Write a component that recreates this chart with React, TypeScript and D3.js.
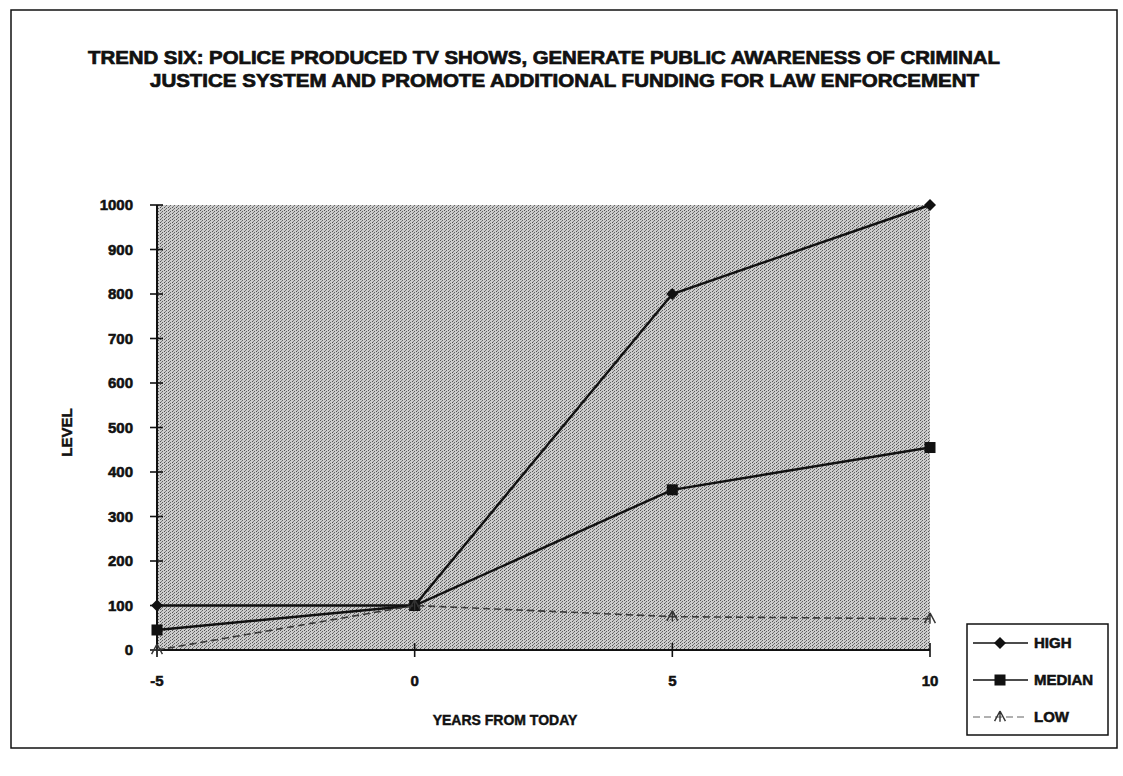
import React from "react";
import * as d3 from "d3";

// Years relative to today and the three forecast series
const years: number[] = [-5, 0, 5, 10];
const highValues: number[] = [100, 100, 800, 1000];
const medianValues: number[] = [45, 100, 360, 455];
const lowValues: number[] = [0, 100, 75, 70];

const xTicks: number[] = [-5, 0, 5, 10];
const yTicks: number[] = [0, 100, 200, 300, 400, 500, 600, 700, 800, 900, 1000];

const titleLines: string[] = [
  "TREND SIX: POLICE PRODUCED TV SHOWS, GENERATE PUBLIC AWARENESS OF CRIMINAL",
  "JUSTICE SYSTEM AND PROMOTE ADDITIONAL FUNDING FOR LAW ENFORCEMENT",
];
const seriesNames: string[] = ["HIGH", "MEDIAN", "LOW"];

const FONT = "'Liberation Sans', Arial, Helvetica, sans-serif";
const INK = "#111";

const W = 1123;
const H = 776;
const plot = { left: 157, right: 930, top: 205, bottom: 650 };

function Marker({ kind, x, y }: { kind: string; x: number; y: number }) {
  if (kind === "diamond") {
    const s = 6;
    return (
      <path
        d={`M${x},${y - s}L${x + s},${y}L${x},${y + s}L${x - s},${y}Z`}
        fill={INK}
      />
    );
  }
  if (kind === "square") {
    const s = 5.5;
    return <rect x={x - s} y={y - s} width={2 * s} height={2 * s} fill={INK} />;
  }
  const s = 6;
  return (
    <path
      d={`M${x},${y - s}L${x + s * 0.9},${y + s * 0.7}M${x},${y - s}L${x - s * 0.9},${y + s * 0.7}M${x},${y - s}L${x},${y + s * 0.8}`}
      fill="none"
      stroke="#333"
      strokeWidth={1.4}
    />
  );
}

export default function App() {
  const x = d3.scaleLinear().domain([-5, 10]).range([plot.left, plot.right]);
  const y = d3.scaleLinear().domain([0, 1000]).range([plot.bottom, plot.top]);

  const line = d3
    .line<number>()
    .x((_, i) => x(years[i]))
    .y((d) => y(d));

  const series = [
    { name: seriesNames[0], values: highValues, marker: "diamond", stroke: INK, width: 2.4, dash: undefined as string | undefined },
    { name: seriesNames[1], values: medianValues, marker: "square", stroke: INK, width: 2.4, dash: undefined as string | undefined },
    { name: seriesNames[2], values: lowValues, marker: "tri", stroke: "#3a3a3a", width: 1.6, dash: "7,4" },
  ];

  const legend = { x: 967, y: 624, w: 141, h: 111 };
  const legendRows = [643, 680, 717];

  const textStyle = { fill: INK, stroke: INK, strokeWidth: 0.55, fontWeight: "bold" as const };

  return (
    <svg
      width={W}
      height={H}
      viewBox={`0 0 ${W} ${H}`}
      style={{ position: "absolute", left: 0, top: 0, background: "#fff" }}
      fontFamily={FONT}
    >
      <defs>
        <pattern id="stipple" width="4" height="3" patternUnits="userSpaceOnUse">
          <rect width="4" height="3" fill="#cccccc" />
          <rect x="0" y="0" width="1" height="1" fill="#505050" />
          <rect x="2" y="1" width="1" height="1" fill="#606060" />
          <rect x="1" y="2" width="1" height="1" fill="#7a7a7a" />
        </pattern>
      </defs>

      {/* chart frame */}
      <rect x={11} y={10} width={1106} height={738} fill="#fff" stroke={INK} strokeWidth={1.5} />

      {/* title */}
      <g fontSize={18} {...textStyle} strokeWidth={0.7}>
        <text x={88} y={64} textLength={912} lengthAdjust="spacingAndGlyphs">
          {titleLines[0]}
        </text>
        <text x={150} y={87} textLength={829} lengthAdjust="spacingAndGlyphs">
          {titleLines[1]}
        </text>
      </g>

      {/* plot area */}
      <rect
        x={plot.left}
        y={plot.top}
        width={plot.right - plot.left}
        height={plot.bottom - plot.top}
        fill="url(#stipple)"
      />

      {/* axes */}
      <line x1={plot.left} x2={plot.left} y1={plot.top} y2={plot.bottom} stroke={INK} strokeWidth={2} />
      <line x1={plot.left} x2={plot.right} y1={plot.bottom} y2={plot.bottom} stroke={INK} strokeWidth={2} />

      {yTicks.map((t) => (
        <g key={`y${t}`}>
          <line x1={plot.left - 7} x2={plot.left + 6} y1={y(t)} y2={y(t)} stroke={INK} strokeWidth={1.6} />
          <text x={133} y={y(t)} dy="0.35em" textAnchor="end" fontSize={15} {...textStyle}>
            {t}
          </text>
        </g>
      ))}

      {xTicks.map((t) => (
        <g key={`x${t}`}>
          <line x1={x(t)} x2={x(t)} y1={plot.bottom - 7} y2={plot.bottom + 7} stroke={INK} strokeWidth={1.6} />
          <text x={x(t)} y={686} textAnchor="middle" fontSize={15} {...textStyle}>
            {t}
          </text>
        </g>
      ))}

      {/* axis titles */}
      <text x={505} y={725} textAnchor="middle" fontSize={14} {...textStyle} strokeWidth={0.45}>
        YEARS FROM TODAY
      </text>
      <text
        transform={`translate(72, ${(plot.top + plot.bottom) / 2 + 5}) rotate(-90)`}
        textAnchor="middle"
        fontSize={15}
        {...textStyle}
        strokeWidth={0.45}
      >
        LEVEL
      </text>

      {/* series lines and markers */}
      {series.map((s) => (
        <g key={s.name}>
          <path
            d={line(s.values) ?? ""}
            fill="none"
            stroke={s.stroke}
            strokeWidth={s.width}
            strokeDasharray={s.dash}
          />
          {s.values.map((v, i) => (
            <Marker key={i} kind={s.marker} x={x(years[i])} y={y(v)} />
          ))}
        </g>
      ))}

      {/* legend */}
      <rect x={legend.x} y={legend.y} width={legend.w} height={legend.h} fill="#fff" stroke={INK} strokeWidth={1.5} />
      {series.map((s, i) => (
        <g key={`lg${s.name}`}>
          <line
            x1={973}
            x2={1028}
            y1={legendRows[i]}
            y2={legendRows[i]}
            stroke={s.stroke}
            strokeWidth={s.width - 0.8}
            strokeDasharray={s.dash}
          />
          <Marker kind={s.marker} x={1000} y={legendRows[i]} />
          <text x={1034} y={legendRows[i]} dy="0.36em" fontSize={15} {...textStyle}>
            {s.name}
          </text>
        </g>
      ))}
    </svg>
  );
}
